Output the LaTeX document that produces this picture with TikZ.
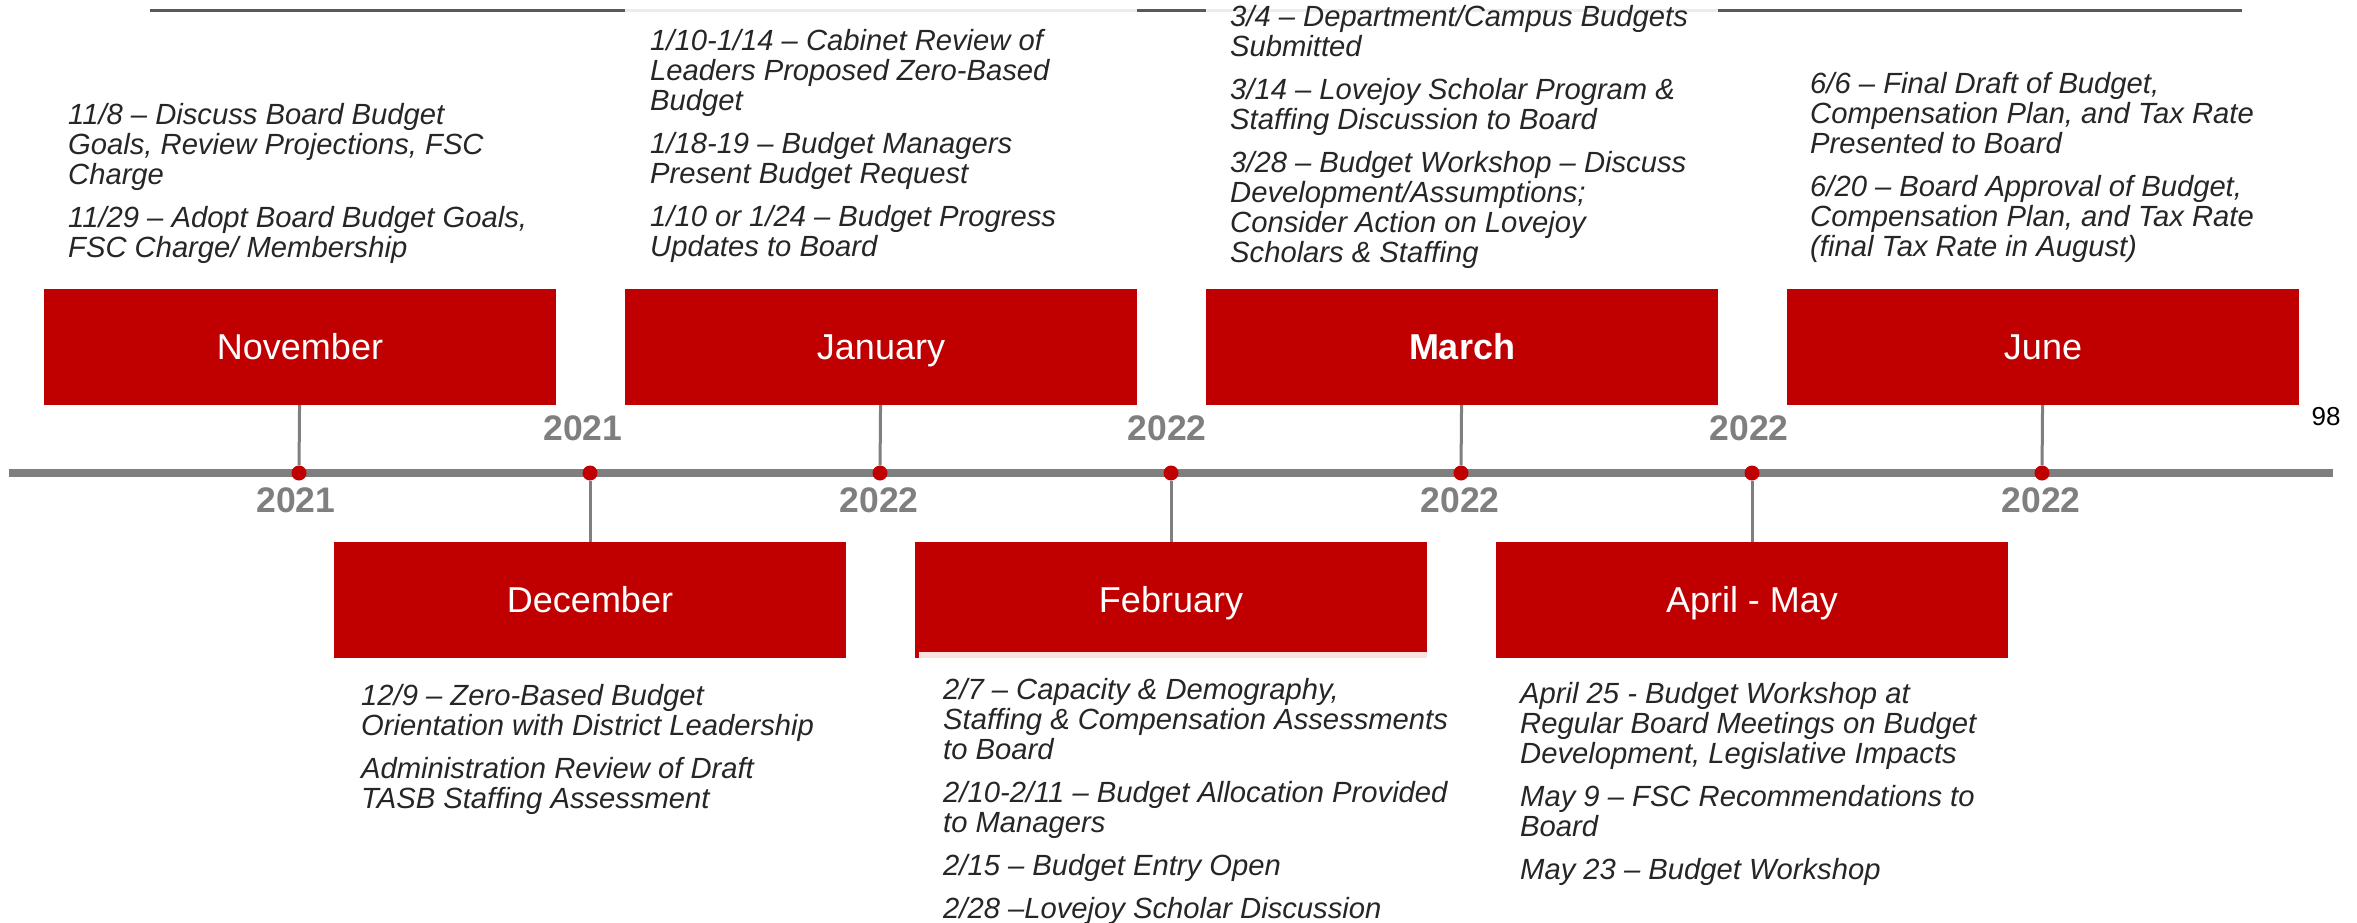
\documentclass[tikz,border=0pt]{standalone}
\usepackage{fontspec}
\setmainfont{Liberation Sans}
\definecolor{boxred}{HTML}{C00000}
\definecolor{linegrey}{HTML}{7F7F7F}
\definecolor{notegrey}{HTML}{262626}
\definecolor{rulegrey}{HTML}{595959}
\definecolor{paleline}{HTML}{ECECEC}
\definecolor{palepink}{HTML}{F9E1E1}
\tikzset{
  monthbox/.style={fill=boxred,text=white,minimum width=512pt,minimum height=116pt,
    inner sep=0pt,text height=25pt,text depth=0pt,font=\fontsize{36}{40}\selectfont},
  yeardot/.style={circle,fill=boxred,minimum size=15pt,inner sep=0pt},
  stem/.style={draw=linegrey,line width=3pt},
  timeline/.style={draw=linegrey,line width=8pt},
  yearlabel/.style={anchor=base,text=linegrey,inner sep=0pt,
    font=\bfseries\fontsize{35.5}{40}\selectfont},
  notes/.style={align=left,inner sep=0pt,text=notegrey,
    font=\itshape\fontsize{29.2}{30}\selectfont},
  topline/.style={draw=rulegrey,line width=3pt},
  paletop/.style={draw=paleline,line width=3pt}
}
\begin{document}
\begin{tikzpicture}[x=1pt,y=-1pt]
    \useasboundingbox (0,0) rectangle (2357,922);
    \fill [white] (0,0) rectangle (2357,922);
    \draw [topline] (150,10.5) -- (625,10.5);
    \draw [paletop] (625,10.5) -- (1137,10.5);
    \draw [topline] (1137,10.5) -- (1206,10.5);
    \draw [paletop] (1206,10.5) -- (1718,10.5);
    \draw [topline] (1718,10.5) -- (2242,10.5);
    \draw [timeline] (9,473) -- (2333,473);
    \path ( 299,473) node [yeardot] (dnov) {};
    \path ( 590,473) node [yeardot] (ddec) {};
    \path ( 880,473) node [yeardot] (djan) {};
    \path (1171,473) node [yeardot] (dfeb) {};
    \path (1461,473) node [yeardot] (dmar) {};
    \path (1752,473) node [yeardot] (dapr) {};
    \path (2042,473) node [yeardot] (djun) {};
    \path ( 300,347) node [monthbox] (nov) {November};
    \path ( 881,347) node [monthbox] (jan) {January};
    \path (1462,347) node [monthbox] (mar) {\bfseries March};
    \path (2043,347) node [monthbox] (jun) {June};
    \path ( 590,600) node [monthbox] (dec) {December};
    \path (1171,600) node [monthbox] (feb) {February};
    \path (1752,600) node [monthbox] (apr) {April - May};
    \fill [palepink] (919,652) rectangle (1427,658);
    \draw [stem] (nov) -- (dnov);
    \draw [stem] (jan) -- (djan);
    \draw [stem] (mar) -- (dmar);
    \draw [stem] (jun) -- (djun);
    \draw [stem] (dec) -- (ddec);
    \draw [stem] (feb) -- (dfeb);
    \draw [stem] (apr) -- (dapr);
    \path ( 296,512) node [yearlabel] (ynov) {2021};
    \path ( 879,512) node [yearlabel] (yjan) {2022};
    \path (1460,512) node [yearlabel] (ymar) {2022};
    \path (2041,512) node [yearlabel] (yjun) {2022};
    \path ( 583,440) node [yearlabel] (ydec) {2021};
    \path (1167,440) node [yearlabel] (yfeb) {2022};
    \path (1749,440) node [yearlabel] (yapr) {2022};
    \path (2326,425) node [anchor=base,inner sep=0pt,font=\fontsize{26}{30}\selectfont]
	(pagenum) {98};
    \path (68,264) node [notes,anchor=south west]
	(novnotes) {11/8 – Discuss Board Budget\\Goals, Review Projections, FSC\\Charge\\[13pt]
	11/29 – Adopt Board Budget Goals,\\FSC Charge/ Membership};
    \path (650,263) node [notes,anchor=south west]
	(jannotes) {1/10-1/14 – Cabinet Review of\\Leaders Proposed Zero-Based\\Budget\\[13pt]
	1/18-19 – Budget Managers\\Present Budget Request\\[13pt]
	1/10 or 1/24 – Budget Progress\\Updates to Board};
    \path (1230,269) node [notes,anchor=south west]
	(marnotes) {3/4 – Department/Campus Budgets\\Submitted\\[13pt]
	3/14 – Lovejoy Scholar Program \&\\Staffing Discussion to Board\\[13pt]
	3/28 – Budget Workshop – Discuss\\Development/Assumptions;\\Consider Action on Lovejoy\\Scholars \& Staffing};
    \path (1810,263) node [notes,anchor=south west]
	(junnotes) {6/6 – Final Draft of Budget,\\Compensation Plan, and Tax Rate\\Presented to Board\\[13pt]
	6/20 – Board Approval of Budget,\\Compensation Plan, and Tax Rate\\(final Tax Rate in August)};
    \path (361,684) node [notes,anchor=north west]
	(decnotes) {12/9 – Zero-Based Budget\\Orientation with District Leadership\\[13pt]
	Administration Review of Draft\\TASB Staffing Assessment};
    \path (943,678) node [notes,anchor=north west]
	(febnotes) {2/7 – Capacity \& Demography,\\Staffing \& Compensation Assessments\\to Board\\[13pt]
	2/10-2/11 – Budget Allocation Provided\\to Managers\\[13pt]
	2/15 – Budget Entry Open\\[13pt]
	2/28 –Lovejoy Scholar Discussion};
    \path (1520,682) node [notes,anchor=north west]
	(aprnotes) {April 25 - Budget Workshop at\\Regular Board Meetings on Budget\\Development, Legislative Impacts\\[13pt]
	May 9 – FSC Recommendations to\\Board\\[13pt]
	May 23 – Budget Workshop};
\end{tikzpicture}
\end{document}
